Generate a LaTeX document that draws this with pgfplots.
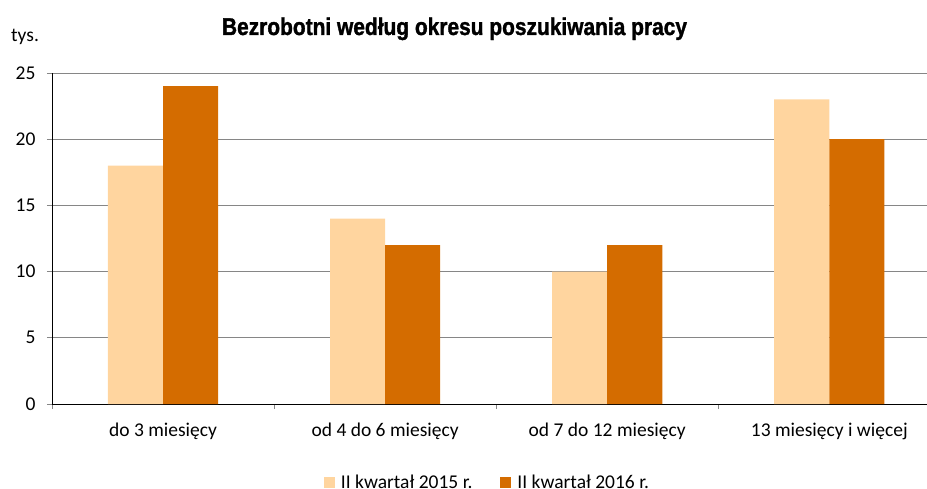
\documentclass[border=0pt]{standalone}
\usepackage{fontspec}
\setmainfont{Carlito}
\newfontfamily\titlefont[FakeBold=1.5]{Liberation Sans}
\usepackage{pgfplots}
\pgfplotsset{compat=1.18}
\definecolor{lightbar}{HTML}{FFD59F}
\definecolor{darkbar}{HTML}{D46C00}
\definecolor{gridgray}{HTML}{868686}
\begin{document}
\begin{tikzpicture}[x=1pt,y=1pt]
\useasboundingbox (0,0) rectangle (927,488);
\begin{axis}[
  at={(52pt,84pt)}, anchor=south west,
  scale only axis, width=875pt, height=331pt,
  xmin=-0.5, xmax=3.44, ymin=0, ymax=25,
  ybar=0pt, bar width=0.248,
  axis x line*=bottom, axis y line*=left,
  axis line style={-, black, line width=0.9pt},
  ytick={0,5,10,15,20,25},
  ymajorgrids, grid style={gridgray, line width=0.9pt},
  tick align=outside, major tick length=5pt,
  tick style={gridgray, line width=0.9pt},
  xtick={-0.5,0.5,1.5,2.5,3.5}, xticklabels={},
  extra x ticks={0,1,2,3},
  extra x tick labels={do 3 miesięcy, od 4 do 6 miesięcy, od 7 do 12 miesięcy, 13 miesięcy i więcej},
  extra x tick style={major tick length=0pt, tick label style={anchor=base, yshift=-32pt}},
  ticklabel style={font=\fontsize{19.5}{23}\selectfont},
  yticklabel style={xshift=-8pt},
  /pgf/number format/assume math mode=true,
  legend style={at={(0.4977,-0.236)}, anchor=center, draw=none, fill=none,
    font=\fontsize{19.5}{23}\selectfont, legend columns=2,
    /tikz/every odd column/.append style={column sep=4pt},
    /tikz/every even column/.append style={column sep=26pt}},
  legend image code/.code={\fill[#1] (0pt,-6pt) rectangle (11pt,5pt);},
]
\addplot[fill=lightbar, draw=none] coordinates {(0,18) (1,14) (2,10) (3,23)};
\addplot[fill=darkbar, draw=none] coordinates {(0,24) (1,12) (2,12) (3,20)};
\legend{II kwartał 2015 r., II kwartał 2016 r.}
\end{axis}
\node[anchor=base west, inner sep=0pt, font=\fontsize{19.5}{23}\selectfont] at (11,446) {tys.};
\node[anchor=base, inner sep=0pt] at (454.5,453) {\resizebox{465pt}{17.5pt}{\titlefont\bfseries Bezrobotni według okresu poszukiwania pracy}};
\end{tikzpicture}
\end{document}
